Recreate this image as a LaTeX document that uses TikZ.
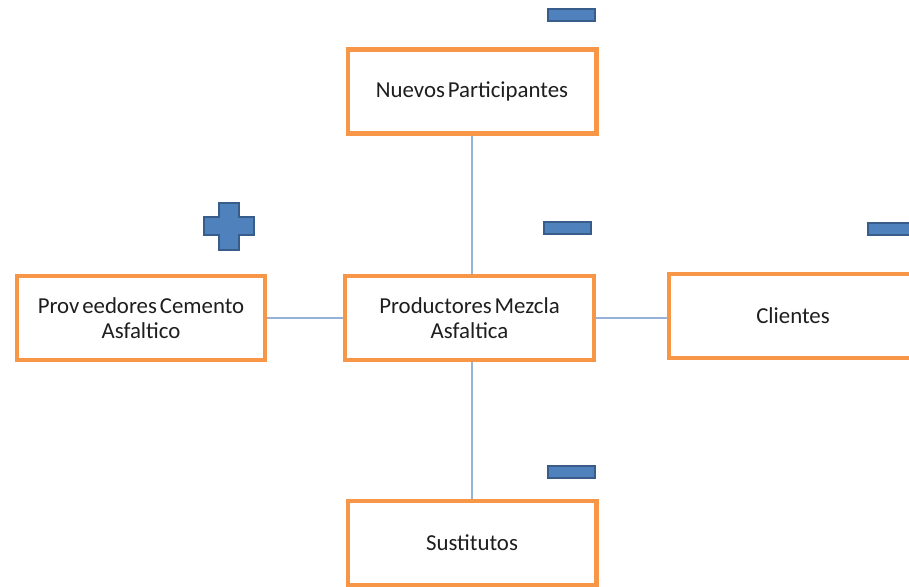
\documentclass[tikz,border=0pt]{standalone}
\usepackage{fontspec}
\setmainfont{Carlito}[WordSpace=0.55]
\usetikzlibrary{positioning, backgrounds}
\definecolor{bordenaranja}{RGB}{247,150,70}
\definecolor{lineaazul}{RGB}{149,179,215}
\definecolor{signoazul}{RGB}{79,129,189}
\definecolor{signoborde}{RGB}{56,93,138}
\definecolor{textogris}{RGB}{30,30,30}

\tikzset{
  fuerza/.style={draw=bordenaranja, line width=2.3pt, fill=white,
    minimum width=4.98cm, minimum height=1.68cm, inner sep=2pt,
    align=center, text=textogris, font=\fontsize{13}{14.5}\selectfont},
  enlace/.style={lineaazul, line width=1.2pt},
  signo/.style={fill=signoazul, draw=signoborde, line width=1pt},
}

\begin{document}
\begin{tikzpicture}[x=0.02cm, y=-0.02cm]

  \useasboundingbox (0,0) rectangle (909,586);

  % cinco fuerzas
  \node[fuerza] (nuevos) at (472,91.5) {Nuevos Participantes};
  \node[fuerza] (productores) at (469.5,318) {Productores Mezcla\\Asfaltica};
  \node[fuerza] (proveedores) at (141,318) {Prov eedores Cemento\\Asfaltico};
  \node[fuerza] (clientes) at (793,316) {Clientes};
  \node[fuerza] (sustitutos) at (472,543) {Sustitutos};

  % conexiones
  \begin{scope}[on background layer]
    \draw[enlace] (nuevos) -- (nuevos |- productores.north);
    \draw[enlace] (proveedores) -- (productores);
    \draw[enlace] (productores) -- (productores -| clientes.west);
    \draw[enlace] (sustitutos) -- (sustitutos |- productores.south);
  \end{scope}

  % signos menos
  \filldraw[signo] (548,9) rectangle (595,21);
  \filldraw[signo] (544,222) rectangle (591,234);
  \filldraw[signo] (548,466) rectangle (595,478);
  \filldraw[signo] (868,223) rectangle (915,235);

  % signo mas
  \filldraw[signo] (219,203) -- (239,203) -- (239,217) -- (254,217) -- (254,235)
    -- (239,235) -- (239,250) -- (219,250) -- (219,235) -- (204,235)
    -- (204,217) -- (219,217) -- cycle;

\end{tikzpicture}
\end{document}
